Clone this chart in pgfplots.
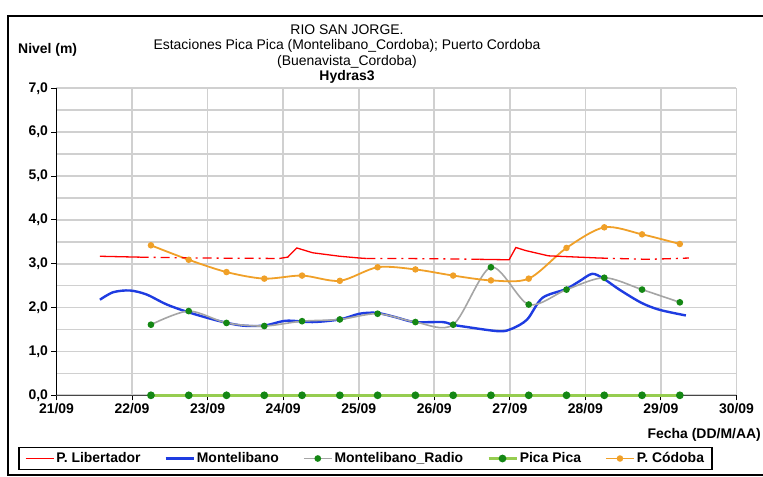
\documentclass[border=0pt]{standalone}
\usepackage{pgfplots}
\pgfplotsset{compat=1.18}
\usepackage{fontspec}
\setmainfont{Liberation Sans}
\definecolor{cred}{RGB}{255,0,0}
\definecolor{cblue}{RGB}{30,60,225}
\definecolor{cgray}{RGB}{165,165,165}
\definecolor{cgreen}{RGB}{20,135,20}
\definecolor{clgreen}{RGB}{150,205,80}
\definecolor{corange}{RGB}{240,160,40}
\definecolor{cgrid}{RGB}{208,208,208}
\newcommand{\fs}{\fontsize{14}{14}\selectfont}
\begin{document}
\begin{tikzpicture}
\useasboundingbox (0,0) rectangle (763bp,477bp);
\draw[line width=2.5bp] (790bp,461bp) -- (8bp,461bp) -- (8bp,2bp) -- (790bp,2bp);
\node[font=\fs] at (347bp,447bp) {RIO SAN JORGE.};
\node[font=\fs] at (347bp,431bp) {Estaciones Pica Pica (Montelibano\_Cordoba); Puerto Cordoba};
\node[font=\fs] at (347bp,415bp) {(Buenavista\_Cordoba)};
\node[font=\fs\bfseries] at (347bp,400bp) {Hydras3};
\node[font=\fs\bfseries, anchor=west, inner sep=0pt] at (18bp,427bp) {Nivel (m)};
\node[font=\fs\bfseries, anchor=east, inner sep=0pt] at (761bp,42bp) {Fecha (DD/M/AA)};
\begin{axis}[
  at={(56.5bp,81.7bp)}, anchor=south west,
  scale only axis, width=680bp, height=307bp,
  xmin=21, xmax=30, ymin=0, ymax=7,
  clip=false,
  axis x line*=bottom, axis y line*=left,
  x axis line style={draw={rgb,255:red,70;green,70;blue,70}, line width=1.5bp, -},
  y axis line style={draw=black, line width=1.5bp, -},
  xtick={21,...,30},
  xticklabels={21/09,22/09,23/09,24/09,25/09,26/09,27/09,28/09,29/09,30/09},
  ytick={0,...,7},
  yticklabels={{0,0},{1,0},{2,0},{3,0},{4,0},{5,0},{6,0},{7,0}},
  minor ytick={0.5,1.5,...,6.5},
  grid=both,
  major grid style={draw=cgrid, line width=1.6bp},
  minor grid style={draw=cgrid, line width=1.6bp},
  tick align=outside, major tick length=5bp, minor tick length=0pt,
  tick style={black, line width=1bp},
  ticklabel style={font=\fs\bfseries},
  legend columns=5,
  legend style={at={(0.4544,-0.2059)}, anchor=center, draw=black, line width=1.5bp,
    font=\fs\bfseries, inner ysep=3bp, inner xsep=6bp,
    /tikz/every even column/.append style={column sep=22bp}},
  legend image code/.code={\draw[mark repeat=2,mark phase=2,#1] plot coordinates {(0bp,0bp) (14bp,0bp) (28bp,0bp)};},
]
% P. Libertador
\addplot[cred, line width=1.3bp] coordinates {(21.575,3.17) (22.10,3.15)};
\addlegendentry{P. Libertador}
\addplot[cblue, line width=2.4bp, smooth, tension=0.5] coordinates {
(21.575,2.18) (21.75,2.35) (21.97,2.39) (22.19,2.30) (22.46,2.07) (22.77,1.88)
(23.16,1.69) (23.46,1.59) (23.75,1.59) (24.04,1.70) (24.39,1.67) (24.75,1.73)
(25.01,1.86) (25.24,1.88) (25.49,1.78) (25.74,1.67) (26.11,1.67) (26.24,1.61)
(26.42,1.56) (26.86,1.46) (27.03,1.52) (27.23,1.73) (27.43,2.22) (27.74,2.42)
(27.92,2.60) (28.09,2.77) (28.24,2.66) (28.45,2.41) (28.74,2.11) (28.98,1.95)
(29.33,1.82)};
\addlegendentry{Montelibano}
\addplot[cgray, line width=1.6bp, smooth, tension=0.5, mark=*, mark size=2.5bp,
  mark options={draw=cgreen, fill=cgreen}] coordinates {
(22.25,1.61) (22.75,1.92) (23.25,1.65) (23.75,1.58) (24.25,1.69) (24.75,1.73)
(25.25,1.86) (25.75,1.67) (26.25,1.61) (26.75,2.92) (27.25,2.07) (27.75,2.41)
(28.25,2.68) (28.75,2.41) (29.25,2.12)};
\addlegendentry{Montelibano\_Radio}
\addplot[clgreen, line width=2.6bp, mark=*, mark size=2.5bp,
  mark options={draw=cgreen, fill=cgreen}] coordinates {
(22.25,0) (22.75,0) (23.25,0) (23.75,0) (24.25,0) (24.75,0) (25.25,0) (25.75,0)
(26.25,0) (26.75,0) (27.25,0) (27.75,0) (28.25,0) (28.75,0) (29.25,0)};
\addlegendentry{Pica Pica}
\addplot[corange, line width=1.8bp, smooth, tension=0.5, mark=*, mark size=2.3bp,
  mark options={draw=corange, fill=corange}] coordinates {
(22.25,3.42) (22.75,3.09) (23.25,2.81) (23.75,2.66) (24.25,2.73) (24.75,2.61)
(25.25,2.92) (25.75,2.87) (26.25,2.73) (26.75,2.62) (27.25,2.66) (27.75,3.36)
(28.25,3.83) (28.75,3.67) (29.25,3.45)};
\addlegendentry{P. Códoba}
% remaining P. Libertador segments
\addplot[forget plot, cred, line width=1.3bp, dash pattern=on 9bp off 5bp on 2bp off 5bp]
  coordinates {(22.10,3.15) (22.9,3.13) (23.95,3.12)};
\addplot[forget plot, cred, line width=1.3bp] coordinates {
(23.95,3.12) (24.06,3.15) (24.18,3.36) (24.39,3.25) (24.75,3.17) (25.01,3.13) (25.10,3.12)};
\addplot[forget plot, cred, line width=1.3bp, dash pattern=on 9bp off 5bp on 2bp off 5bp]
  coordinates {(25.10,3.12) (25.54,3.12) (26.20,3.11) (26.60,3.10)};
\addplot[forget plot, cred, line width=1.3bp] coordinates {
(26.60,3.10) (26.99,3.09) (27.08,3.37) (27.21,3.30) (27.51,3.18) (28.18,3.13)};
\addplot[forget plot, cred, line width=1.3bp, dash pattern=on 9bp off 5bp on 2bp off 5bp]
  coordinates {(28.18,3.13) (28.84,3.10) (29.37,3.13)};
\end{axis}
\end{tikzpicture}
\end{document}
